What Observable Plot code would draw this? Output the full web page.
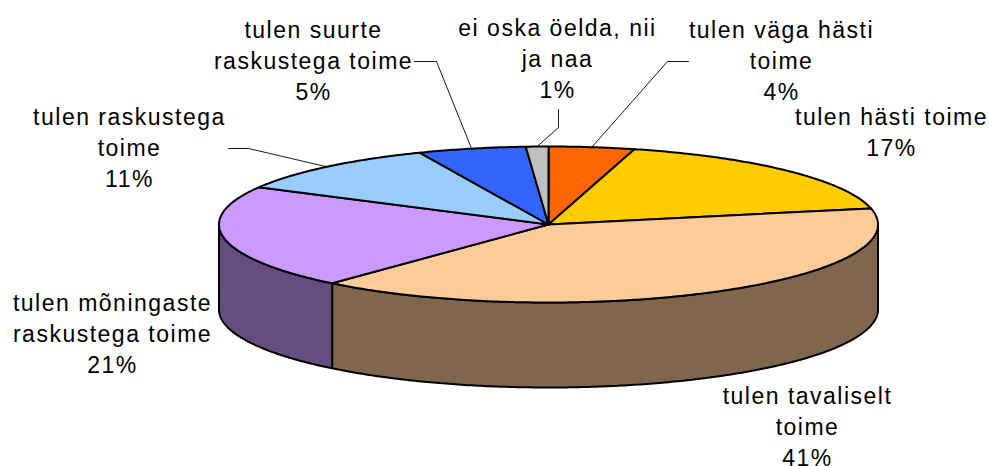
<!DOCTYPE html>
<html>
<head>
<meta charset="utf-8">
<script src="https://cdn.jsdelivr.net/npm/d3@7"></script>
<script src="https://cdn.jsdelivr.net/npm/@observablehq/plot@0.6"></script>
<style>
html,body{margin:0;padding:0;background:#fff;overflow:hidden}
svg{display:block}
svg text{letter-spacing:1.5px}
</style>
</head>
<body>
<div id="chart"></div>
<script>
// Label text as printed on the chart
const categories = [
  "tulen väga hästi\ntoime",
  "tulen hästi toime",
  "tulen tavaliselt\ntoime",
  "tulen mõningaste\nraskustega toime",
  "tulen raskustega\ntoime",
  "tulen suurte\nraskustega toime",
  "ei oska öelda, nii\nja naa"
];
const percentLabels = ["4%", "17%", "41%", "21%", "11%", "5%", "1%"];
const shares = [4.2, 17.5, 39.7, 21.5, 10.7, 5.3, 1.1];
const topColors = ["#FF6600", "#FFCC00", "#FFCC99", "#CC99FF", "#99CCFF", "#3366FF", "#C0C0C0"];
const sideColors = ["#7F3300", "#7F6600", "#7F664C", "#664C7F", "#4C667F", "#19337F", "#606060"];

// Layout only
const W = 989, H = 466;
const pie = {cx: 548, cy: 224, rx: 329.5, ry: 78, depth: 85};
const labelPos = [[781, 59], [891, 130], [807, 425], [112, 332], [129, 146], [313, 59], [557, 57]];
const leaderElbows = [
  [[688, 61], [667, 61]],
  null,
  null,
  null,
  [[228, 148], [248, 148]],
  [[414, 61], [436, 61]],
  [[558, 109], [558, 127]]
];

const total = d3.sum(shares);
const cum = d3.cumsum(shares);
const ang = v => v / total * 2 * Math.PI;
const pt = (a, dz = 0, k = 1) => ({x: pie.cx + k * pie.rx * Math.sin(a), y: pie.cy - k * pie.ry * Math.cos(a) + dz});
const arc = (a0, a1, dz = 0) => {
  const n = Math.max(2, Math.ceil(Math.abs(a1 - a0) / 0.01));
  return d3.range(n + 1).map(i => pt(a0 + (a1 - a0) * i / n, dz));
};

const slices = shares.map((s, i) => ({
  a0: ang(i ? cum[i - 1] : 0),
  a1: ang(cum[i]),
  mid: ang((i ? cum[i - 1] : 0) + s / 2)
}));

const poly = (pts, fill, strokeWidth = 2) =>
  Plot.line(pts, {x: "x", y: "y", curve: "linear-closed", fill, stroke: "#000", strokeWidth, strokeLinejoin: "round"});

// Visible outer wall: the part of each slice facing front (90° to 270°)
const walls = slices.flatMap((s, i) => {
  const a0 = Math.max(s.a0, Math.PI / 2), a1 = Math.min(s.a1, 3 * Math.PI / 2);
  if (a1 <= a0) return [];
  return [poly([...arc(a0, a1), ...arc(a1, a0, pie.depth)], sideColors[i])];
});

const tops = slices.map((s, i) => poly([{x: pie.cx, y: pie.cy}, ...arc(s.a0, s.a1)], topColors[i]));

const leaders = slices.flatMap((s, i) => leaderElbows[i]
  ? [Plot.line([...leaderElbows[i].map(([x, y]) => ({x, y})), pt(s.mid)], {x: "x", y: "y", stroke: "#000", strokeWidth: 0.9})]
  : []);

const labels = categories.map((c, i) => ({text: c + "\n" + percentLabels[i], x: labelPos[i][0], y: labelPos[i][1]}));

const chart = Plot.plot({
  width: W, height: H,
  margin: 0,
  style: {background: "#fff", overflow: "hidden"},
  x: {domain: [0, W], range: [0, W], axis: null},
  y: {domain: [0, H], range: [0, H], axis: null},
  marks: [
    ...leaders,
    ...walls,
    ...tops,
    Plot.text(labels, {
      x: "x", y: "y", text: "text",
      fontFamily: "Liberation Sans", fontSize: 23, lineHeight: 1.35,
      textAnchor: "middle", lineAnchor: "middle", fill: "#000"
    })
  ]
});
document.getElementById("chart").append(chart);
</script>
</body>
</html>
